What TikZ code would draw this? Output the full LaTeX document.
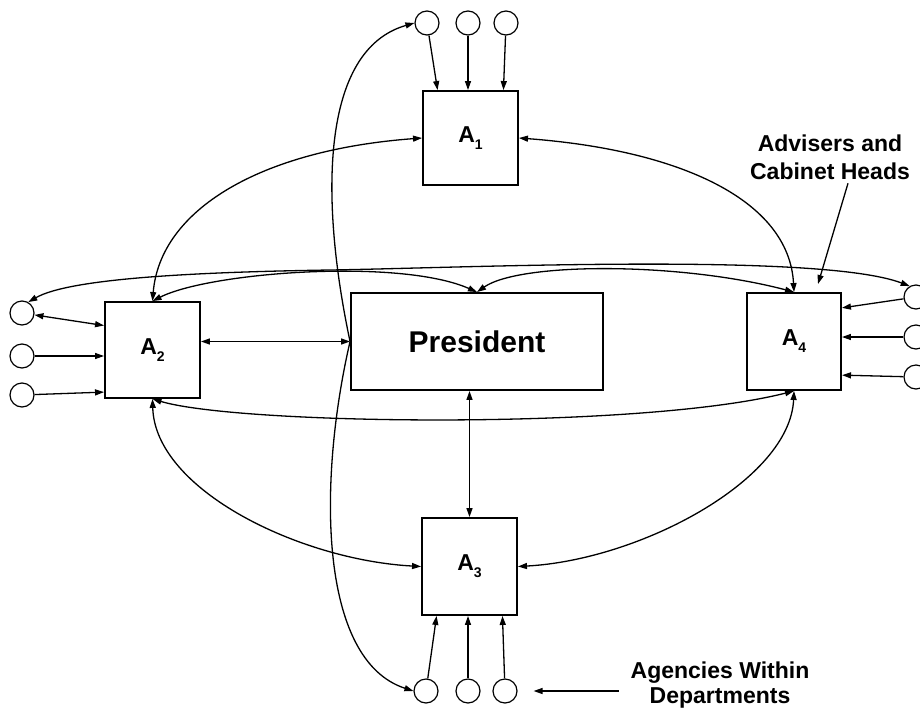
\documentclass[tikz,border=0pt]{standalone}
\usepackage{fontspec}
\setmainfont{Liberation Sans}
\usetikzlibrary{arrows.meta,calc}
\newcommand\officeidx[1]{\raisebox{-.3em}{\fontsize{14}{14}\selectfont#1}}
\begin{document}
\begin{tikzpicture}[x=1pt,y=-1pt,
  office/.style={draw, line width=1.9pt, fill=white, minimum width=95pt,
    minimum height=96pt, inner sep=0pt, font=\bfseries\fontsize{23}{23}\selectfont},
  unit/.style={circle, draw, line width=1.2pt, minimum size=24pt, inner sep=0pt},
  link/.style={line width=1.3pt, -{Triangle[length=9pt,width=6pt]}},
  both/.style={line width=1.3pt, {Triangle[length=9pt,width=6pt]}-{Triangle[length=9pt,width=6pt]}},
  note/.style={align=center, inner sep=0pt, font=\bfseries\fontsize{23}{28}\selectfont}]
\useasboundingbox[fill=white] (0,0) rectangle (920,712);

% offices
\node[office, minimum height=94pt] (A1) at (470.5,138) {A\officeidx{1}};
\node[office] (A2) at (152.5,350) {A\officeidx{2}};
\node[office, minimum width=252pt, minimum height=97pt,
  font=\bfseries\fontsize{30}{30}\selectfont] (P) at (477,341.5) {President};
\node[office, minimum width=94pt, minimum height=97pt] (A4) at (794,341.5) {A\officeidx{4}};
\node[office, minimum height=97pt] (A3) at (469.5,566.5) {A\officeidx{3}};

% agencies
\node[unit] (t1) at (427,23) {};
\node[unit] (t2) at (468,23) {};
\node[unit] (t3) at (506,23) {};
\node[unit] (l1) at (22,313) {};
\node[unit] (l2) at (22,356) {};
\node[unit] (l3) at (22,395) {};
\node[unit] (r1) at (916,297) {};
\node[unit] (r2) at (916,337) {};
\node[unit] (r3) at (916,377) {};
\node[unit] (b1) at (426,691) {};
\node[unit] (b2) at (468,691) {};
\node[unit] (b3) at (505,691) {};

% agencies feeding their office
\draw[link] (t1) -- ($(A1.north west)!.16!(A1.north east)$);
\draw[link] (t2) -- (t2 |- A1.north);
\draw[link] (t3) -- ($(A1.north west)!.84!(A1.north east)$);
\draw[link] (b1) -- ($(A3.south west)!.16!(A3.south east)$);
\draw[link] (b2) -- (b2 |- A3.south);
\draw[link] (b3) -- ($(A3.south west)!.84!(A3.south east)$);
\draw[both] (l1) -- ($(A2.north west)!.25!(A2.south west)$);
\draw[link] (l2) -- (l2 -| A2.west);
\draw[link] (l3) -- ($(A2.north west)!.93!(A2.south west)$);
\draw[link] (r1) -- ($(A4.north east)!.16!(A4.south east)$);
\draw[link] (r2) -- (r2 -| A4.east);
\draw[link] (r3) -- ($(A4.north east)!.84!(A4.south east)$);

% straight links to the president
\draw[both] (P.west -| A2.east) -- (P.west);
\draw[both] (A3.north |- P.south) -- (A3.north);

% president reaching down to agencies
\draw[link] (P.west) .. controls (320,200) and (320,50) .. (t1.west);
\draw[link] (P.west) .. controls (318,480) and (318,660) .. (b1.west);

% arcs between offices
\draw[both] (A2.north) .. controls (160,210) and (260,150) .. (A1.west);
\draw[both] (A4.north) .. controls (789,200) and (680,150) .. (A1.east);
\draw[both] (A2.south) .. controls (155,490) and (300,560) .. (A3.west);
\draw[both] (A4.south) .. controls (790,480) and (640,560) .. (A3.east);
\draw[both] (A2.south) .. controls (240,425) and (640,430) .. (A4.south);
\draw[both] (A2.north) .. controls (210,272) and (400,258) .. (P.north);
\draw[both] (P.north) .. controls (520,262) and (680,262) .. (A4.north);
\draw[both] (l1.60) .. controls (70,278) and (200,272) .. (330,270)
  .. controls (460,268) and (820,252) .. (r1.120);

% labels
\node[note, anchor=north] (adv) at (830,135) {Advisers and\\Cabinet Heads};
\coordinate (advtip) at (818,284);
\draw[link] ($(adv.south)+(18,3)$) -- (advtip);
\node[note, anchor=north, font=\bfseries\fontsize{23}{25}\selectfont] (agn) at (720,662)
  {Agencies Within\\Departments};
\draw[link] ($(b3.east)+(101,0)$) -- ($(b3.east)+(16,0)$);
\end{tikzpicture}
\end{document}
